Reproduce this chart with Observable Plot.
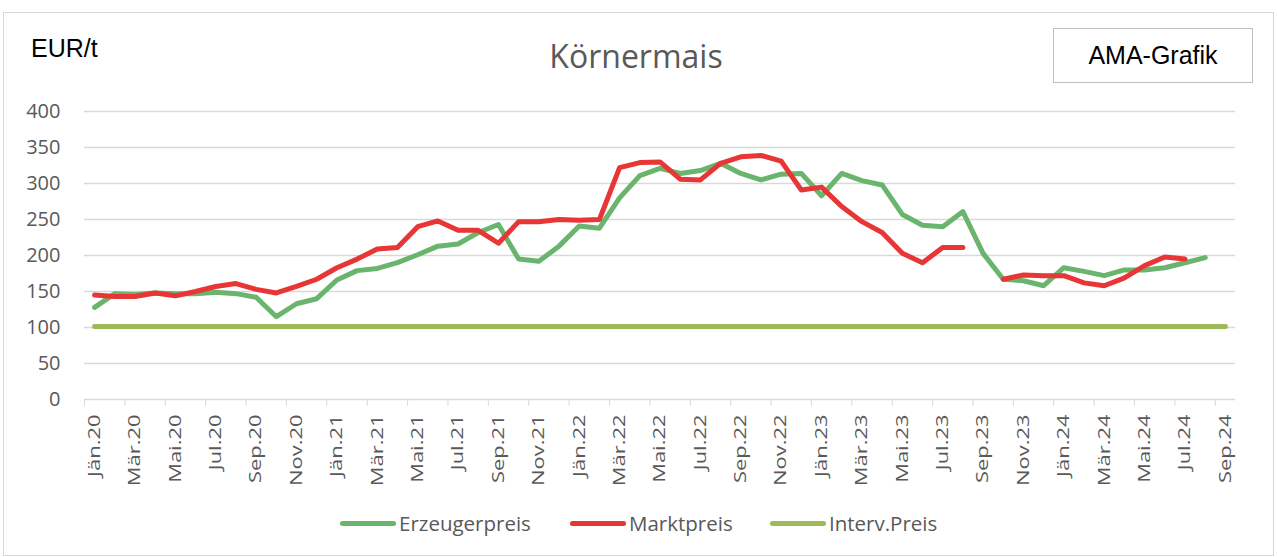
<!DOCTYPE html>
<html><head><meta charset="utf-8">
<script src="https://cdn.jsdelivr.net/npm/d3@7"></script>
<script src="https://cdn.jsdelivr.net/npm/@observablehq/plot@0.6"></script>
<style>
body{margin:0;background:#fff;font-family:"Open Sans",sans-serif;}
#wrap{position:relative;width:1277px;height:557px;overflow:hidden;}
#frame{position:absolute;left:3px;top:12px;width:1271px;height:544px;border:1px solid #d9d9d9;box-sizing:border-box;}
#chart{position:absolute;left:0;top:0;}
#unit{position:absolute;left:31px;top:36px;font-family:"Liberation Sans",Arial,sans-serif;font-size:25px;line-height:25px;color:#000;}
#title{position:absolute;left:0;width:1272px;top:40px;text-align:center;font-size:32px;line-height:32px;color:#595959;}
#ama{position:absolute;left:1053px;top:28px;width:200px;height:55px;border:1px solid #bfbfbf;box-sizing:border-box;font-family:"Liberation Sans",Arial,sans-serif;font-size:25px;color:#000;display:flex;align-items:center;justify-content:center;}
#legend{position:absolute;top:510px;left:0;width:1277px;height:26px;}
.li{position:absolute;top:0;display:flex;align-items:center;font-size:20.5px;color:#595959;height:26px;}
.sw{width:56px;height:5px;border-radius:3px;margin-right:3px;}
</style></head>
<body>
<div id="wrap">
<div id="frame"></div>
<div id="chart"></div>
<div id="unit">EUR/t</div>
<div id="title">Körnermais</div>
<div id="ama">AMA-Grafik</div>
<div id="legend"></div>
</div>
<script>
const months = [
"Jän.20","Feb.20","Mär.20","Apr.20","Mai.20","Jun.20","Jul.20","Aug.20","Sep.20","Okt.20","Nov.20","Dez.20",
"Jän.21","Feb.21","Mär.21","Apr.21","Mai.21","Jun.21","Jul.21","Aug.21","Sep.21","Okt.21","Nov.21","Dez.21",
"Jän.22","Feb.22","Mär.22","Apr.22","Mai.22","Jun.22","Jul.22","Aug.22","Sep.22","Okt.22","Nov.22","Dez.22",
"Jän.23","Feb.23","Mär.23","Apr.23","Mai.23","Jun.23","Jul.23","Aug.23","Sep.23","Okt.23","Nov.23","Dez.23",
"Jän.24","Feb.24","Mär.24","Apr.24","Mai.24","Jun.24","Jul.24","Aug.24","Sep.24"];
const erzeugerpreis = [
128,147,146,148,147,147,149,147,142,115,133,140,
166,179,182,190,201,213,216,232,243,195,192,213,
241,238,280,311,321,314,318,328,314,305,313,314,
283,314,304,298,257,242,240,261,203,167,165,158,
183,178,172,180,180,183,190,197,null];
const marktpreis = [
145,143,143,148,144,150,157,161,153,148,157,167,
183,195,209,211,240,248,235,235,217,247,247,250,
249,250,322,329,330,306,305,328,337,339,331,291,
295,268,247,232,203,190,211,211,null,167,173,172,
172,162,158,169,186,198,195,null,null];
const intervPreis = months.map(() => 101.31);
const yTicks = [0,50,100,150,200,250,300,350,400];

const seriesNames = ["Erzeugerpreis","Marktpreis","Interv.Preis"];
const seriesColors = ["#6ab56e","#e83535","#9bbb59"];

const idx = months.map((m,i)=>i);
const labelIdx = idx.filter(i => i % 2 === 0);
const boundaries = d3.range(0, months.length + 1, 2).map(b => b - 0.5);

function rows(vals){ return vals.map((v,i)=>({i, v})); }

const chart = Plot.plot({
  width: 1277,
  height: 500,
  marginLeft: 84,
  marginRight: 42,
  marginTop: 111,
  marginBottom: 101,
  style: {fontFamily: "Open Sans, sans-serif", background: "transparent"},
  x: {type: "linear", domain: [-0.5, months.length - 0.5]},
  y: {domain: [0, 400]},
  marks: [
    Plot.gridY(yTicks.filter(t => t > 0), {stroke: "#d9d9d9", strokeOpacity: 1, strokeWidth: 1.5}),
    Plot.ruleY([0], {stroke: "#d9d9d9", strokeWidth: 1.5}),
    Plot.axisY(yTicks, {tickSize: 0, tickPadding: 24, fontSize: 20, fill: "#595959", label: null}),
    Plot.axisX(boundaries, {tickSize: 7, stroke: "#d9d9d9", tickFormat: () => "", label: null}),
    Plot.axisX(labelIdx, {tickSize: 0, tickPadding: 15, tickRotate: -90, fontSize: 16.5, fill: "#595959", tickFormat: i => months[i], label: null}),
    Plot.lineY(rows(intervPreis), {x: "i", y: "v", stroke: seriesColors[2], strokeWidth: 5, strokeLinecap: "round", strokeLinejoin: "round"}),
    Plot.lineY(rows(erzeugerpreis), {x: "i", y: "v", stroke: seriesColors[0], strokeWidth: 5, strokeLinecap: "round", strokeLinejoin: "round"}),
    Plot.lineY(rows(marktpreis), {x: "i", y: "v", stroke: seriesColors[1], strokeWidth: 5, strokeLinecap: "round", strokeLinejoin: "round"})
  ]
});
// stretch rotated month labels along their length to match reference proportions
chart.querySelectorAll('g[aria-label="x-axis tick label"] text').forEach(t => {
  const tr = t.getAttribute("transform") || "";
  t.setAttribute("transform", tr + " scale(1.33,1)");
});
document.getElementById("chart").appendChild(chart);

const legendX = [340, 570, 770];
const lg = document.getElementById("legend");
seriesNames.forEach((n, k) => {
  const d = document.createElement("div");
  d.className = "li";
  d.style.left = legendX[k] + "px";
  d.innerHTML = `<div class="sw" style="background:${seriesColors[k]}"></div><span>${n}</span>`;
  lg.appendChild(d);
});
</script>
</body></html>
